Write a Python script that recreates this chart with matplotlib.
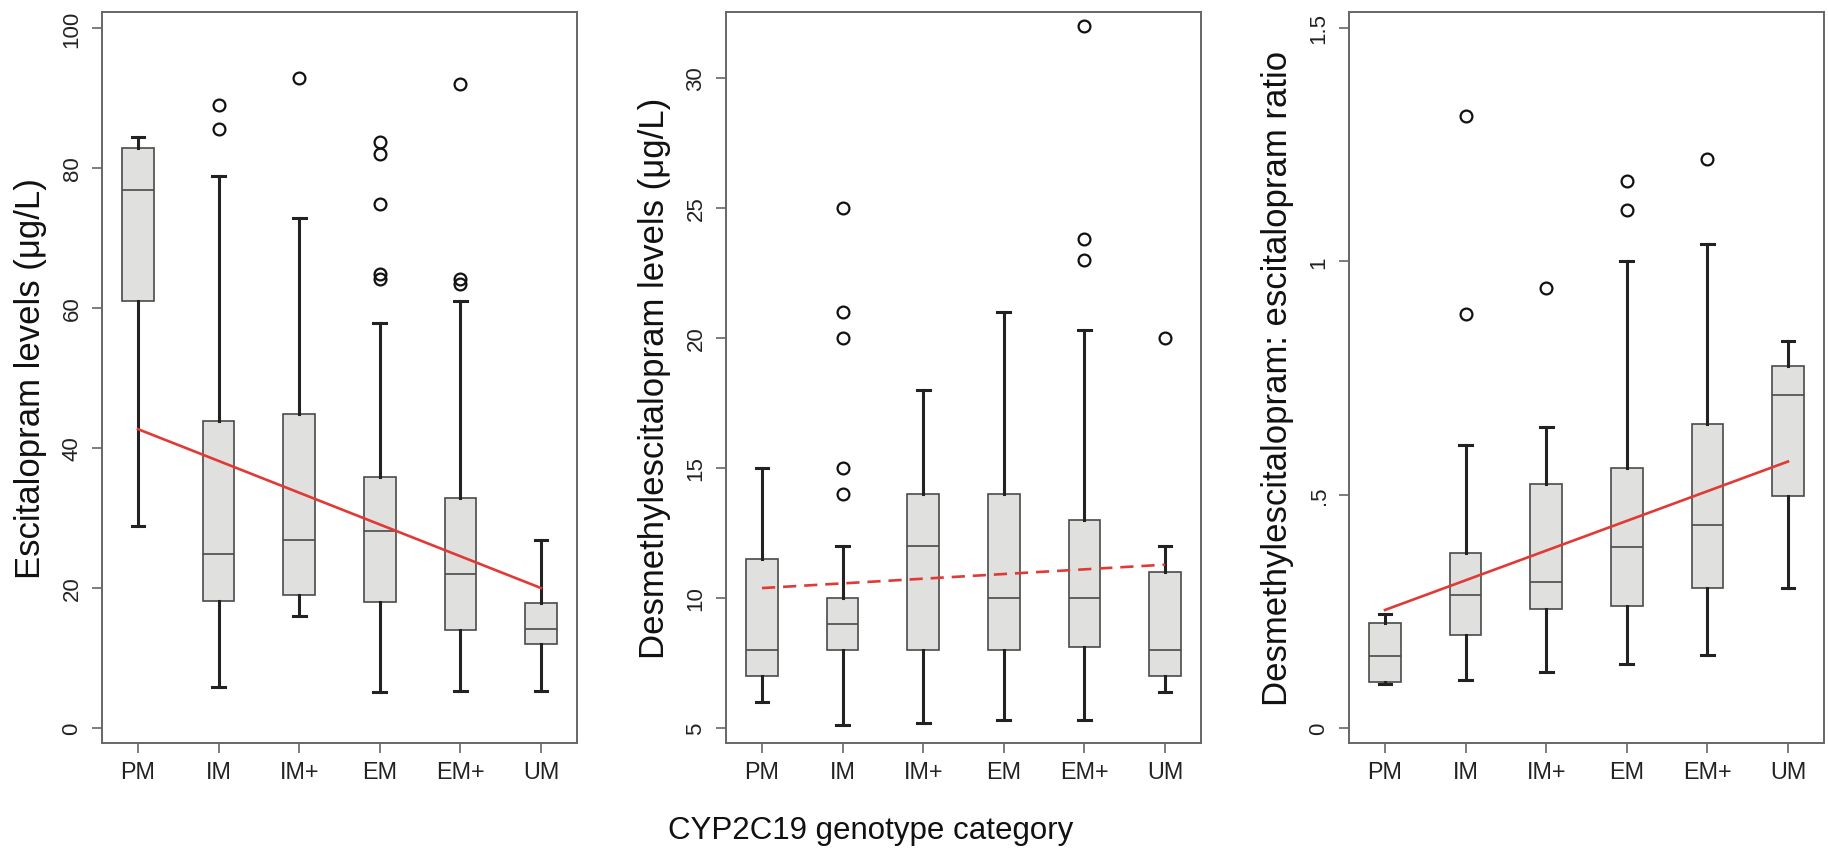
import matplotlib
matplotlib.use("Agg")
import matplotlib.pyplot as plt

plt.rcParams['font.family'] = ['Liberation Sans', 'DejaVu Sans']

groups = ['PM', 'IM', 'IM+', 'EM', 'EM+', 'UM']

# escitalopram levels (ug/L)
esc_whislo = [28.9, 5.9, 16.0, 5.1, 5.3, 5.3]
esc_q1 = [61.0, 18.2, 19.0, 18.0, 14.0, 12.0]
esc_med = [76.9, 24.8, 26.9, 28.1, 22.0, 14.1]
esc_q3 = [82.9, 43.9, 44.9, 35.9, 32.9, 17.9]
esc_whishi = [84.5, 78.9, 72.9, 57.9, 61.0, 26.9]
esc_fliers = [[], [89.0, 85.6], [92.9], [83.7, 82.0, 74.8, 64.8, 64.1], [92.0, 64.1, 63.4], []]
esc_trend = [42.7, 20.0]

# desmethylescitalopram levels (ug/L)
des_whislo = [6.0, 5.1, 5.2, 5.3, 5.3, 6.4]
des_q1 = [7.0, 8.0, 8.0, 8.0, 8.1, 7.0]
des_med = [8.0, 9.0, 12.0, 10.0, 10.0, 8.0]
des_q3 = [11.5, 10.0, 14.0, 14.0, 13.0, 11.0]
des_whishi = [15.0, 12.0, 18.0, 21.0, 20.3, 12.0]
des_fliers = [[], [25.0, 21.0, 20.0, 15.0, 14.0], [], [], [32.0, 23.8, 23.0], [20.0]]
des_trend = [10.38, 11.28]

# ratio
rat_whislo = [0.094, 0.102, 0.121, 0.137, 0.157, 0.299]
rat_q1 = [0.099, 0.199, 0.256, 0.261, 0.299, 0.498]
rat_med = [0.155, 0.285, 0.313, 0.388, 0.434, 0.713]
rat_q3 = [0.225, 0.374, 0.522, 0.558, 0.652, 0.776]
rat_whishi = [0.245, 0.607, 0.646, 1.0, 1.036, 0.830]
rat_fliers = [[], [1.311, 0.887], [0.943], [1.173, 1.110], [1.220], []]
rat_trend = [0.253, 0.571]

ylabels = ['Escitalopram levels (\u03bcg/L)',
           'Desmethylescitalopram levels (\u03bcg/L)',
           'Desmethylescitalopram: escitalopram ratio']

fig = plt.figure(figsize=(18.28, 8.54), dpi=100)
W, H = 1828, 854
lefts = [102, 726, 1349]
axw, top, bot = 475, 13, 744

panels = [
    (esc_whislo, esc_q1, esc_med, esc_q3, esc_whishi, esc_fliers, esc_trend,
     (-2.14, 102.3), [0, 20, 40, 60, 80, 100], ['0', '20', '40', '60', '80', '100'], '-'),
    (des_whislo, des_q1, des_med, des_q3, des_whishi, des_fliers, des_trend,
     (4.42, 32.54), [5, 10, 15, 20, 25, 30], ['5', '10', '15', '20', '25', '30'], (0, (5, 3))),
    (rat_whislo, rat_q1, rat_med, rat_q3, rat_whishi, rat_fliers, rat_trend,
     (-0.032, 1.534), [0, 0.5, 1, 1.5], ['0', '.5', '1', '1.5'], '-'),
]

frame_col = '#666666'
for k, (lo, q1, med, q3, hi, fl, tr, ylim, yt, ytl, ls) in enumerate(panels):
    ax = fig.add_axes([lefts[k] / W, 1 - bot / H, axw / W, (bot - top) / H])
    stats = []
    for i in range(len(groups)):
        stats.append(dict(whislo=lo[i], q1=q1[i], med=med[i], q3=q3[i],
                          whishi=hi[i], fliers=fl[i]))
    pos = list(range(1, len(groups) + 1))
    ax.bxp(stats, positions=pos, widths=0.39, patch_artist=True,
           showfliers=True,
           boxprops=dict(facecolor='#e0e0df', edgecolor='#4a4a4a', linewidth=1.2),
           medianprops=dict(color='#4a4a4a', linewidth=1.2),
           whiskerprops=dict(color='#222222', linewidth=2.2),
           capprops=dict(color='#222222', linewidth=2.2),
           capwidths=0.16,
           flierprops=dict(marker='o', markerfacecolor='none', markeredgecolor='#111111',
                           markersize=8.5, markeredgewidth=1.6))
    ax.plot([1, 6], tr, color='#e03a35', linewidth=1.9, linestyle=ls, zorder=5)
    ax.set_xlim(0.553, 6.447)
    ax.set_ylim(*ylim)
    ax.set_xticks(pos)
    ax.set_xticklabels(groups, fontsize=16.8, color='#222222')
    ax.set_yticks(yt)
    ax.set_yticklabels(ytl, fontsize=16, rotation=90, va='center', color='#222222')
    ax.tick_params(axis='x', length=7, width=1.2, color=frame_col, pad=5)
    ax.tick_params(axis='y', length=7, width=1.2, color=frame_col, pad=7)
    for s in ax.spines.values():
        s.set_color(frame_col)
        s.set_linewidth(1.4)
    ax.set_ylabel(ylabels[k], fontsize=25, color='#111111')
    ax.yaxis.set_label_coords(-55 / axw, 0.5)

fig.text(871 / W, 1 - 831 / H, 'CYP2C19 genotype category', fontsize=22.5,
         ha='center', va='center', color='#111111')

fig.savefig('out.png', dpi=100, facecolor='white')
